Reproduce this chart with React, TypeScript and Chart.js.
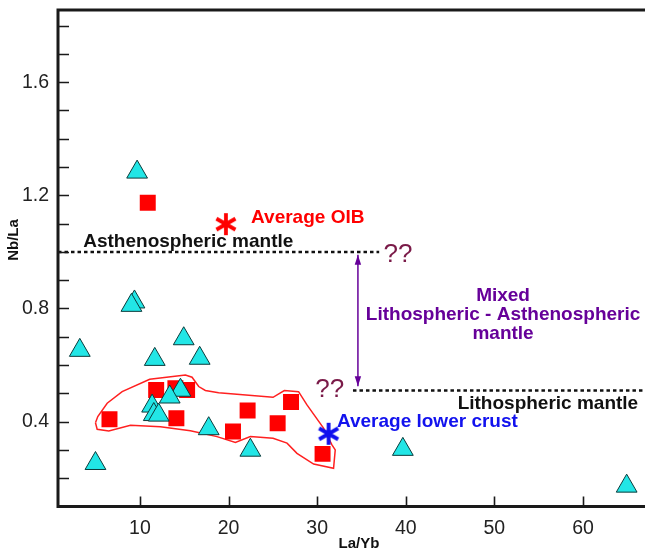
import React, { useEffect, useRef } from "react";
import { Chart, registerables } from "chart.js";

Chart.register(...registerables);

// ---- axis ranges & ticks ----
const xRange = [0.75, 67];
const yRange = [0.1, 1.855];
const xTickValues = [10, 20, 30, 40, 50, 60];
const yLabelValues = [0.4, 0.8, 1.2, 1.6];
const yMinorValues = [0.2, 0.3, 0.4, 0.5, 0.6, 0.7, 0.8, 0.9, 1.0, 1.1, 1.2, 1.3, 1.4, 1.5, 1.6, 1.7, 1.8];

// ---- samples: cyan triangles ----
const triX = [9.68, 9.38, 9.04, 3.21, 14.94, 11.67, 16.74, 14.57, 13.36, 11.37, 11.56, 12.12, 17.76, 22.46, 4.98, 39.67, 64.93];
const triY = [1.282, 0.823, 0.811, 0.652, 0.693, 0.62, 0.624, 0.511, 0.487, 0.455, 0.425, 0.423, 0.375, 0.299, 0.252, 0.302, 0.172];

// ---- samples: red squares ----
const sqX = [10.88, 6.56, 11.83, 14.0, 15.32, 14.11, 22.15, 20.5, 25.54, 27.05, 30.61];
const sqY = [1.174, 0.408, 0.512, 0.518, 0.512, 0.412, 0.439, 0.365, 0.394, 0.469, 0.286];

// ---- reference points ----
const oibPoint = { x: 19.7, y: 1.098 };
const lowerCrustPoint = { x: 31.29, y: 0.357 };

// ---- field outline (red polygon) ----
const polyX = [4.98, 5.24, 6.3, 7.99, 11.1, 15.13, 15.88, 16.63, 17.38, 18.88, 25.02, 26.29, 27.9, 28.85, 30.72, 31.67, 32.04, 31.85, 29.6, 27.72, 26.6, 25.02, 22.46, 20.77, 18.7, 15.69, 12.31, 8.93, 6.48, 5.17, 4.98];
const polyY = [0.396, 0.418, 0.465, 0.506, 0.55, 0.565, 0.557, 0.524, 0.51, 0.502, 0.486, 0.51, 0.506, 0.459, 0.377, 0.318, 0.3, 0.235, 0.25, 0.288, 0.324, 0.341, 0.347, 0.326, 0.347, 0.368, 0.382, 0.387, 0.367, 0.373, 0.396];

// ---- reference lines ----
const asthenoLineX = [0.75, 37.0];
const asthenoLineY = 1.0;
const lithoLineX = [34.04, 67];
const lithoLineY = 0.51;
const arrowX = 34.6;
const arrowY = [0.99, 0.525];

// ---- annotations (data coords) ----
const annotations = [
  { text: "Average OIB", x: 22.54, y: 1.102, color: "#ff0000", align: "left", size: 19, bold: true },
  { text: "Asthenospheric mantle", x: 3.6, y: 1.019, color: "#111111", align: "left", size: 19, bold: true },
  { text: "Average lower crust", x: 32.23, y: 0.381, color: "#1212ee", align: "left", size: 19, bold: true },
  { text: "Lithospheric mantle", x: 66.23, y: 0.443, color: "#111111", align: "right", size: 19, bold: true },
  { text: "Mixed", x: 50.98, y: 0.828, color: "#660099", align: "center", size: 19, bold: true },
  { text: "Lithospheric - Asthenospheric", x: 50.98, y: 0.759, color: "#660099", align: "center", size: 19, bold: true },
  { text: "mantle", x: 50.98, y: 0.692, color: "#660099", align: "center", size: 19, bold: true },
  { text: "??", x: 37.49, y: 0.965, color: "#7a1a48", align: "left", size: 26, bold: false },
  { text: "??", x: 29.79, y: 0.488, color: "#7a1a48", align: "left", size: 26, bold: false },
];

const xTitle = "La/Yb";
const yTitle = "Nb/La";
const FONT = "'Liberation Sans', Arial, Helvetica, sans-serif";

function makeStar(color: string) {
  const size = 26;
  const c = document.createElement("canvas");
  c.width = size;
  c.height = size;
  const g = c.getContext("2d")!;
  g.strokeStyle = color;
  g.lineWidth = 3.8;
  const r = 11;
  const cx = size / 2;
  g.beginPath();
  for (const a of [90, 30, 150]) {
    const rad = (a * Math.PI) / 180;
    g.moveTo(cx + r * Math.cos(rad), cx - r * Math.sin(rad));
    g.lineTo(cx - r * Math.cos(rad), cx + r * Math.sin(rad));
  }
  g.stroke();
  return c;
}

const overlayPlugin = {
  id: "overlay",
  afterDatasetsDraw(chart: any) {
    const { ctx, chartArea: ca, scales } = chart;
    const xs = scales.x;
    const ys = scales.y;
    ctx.save();
    // frame (left, top, bottom)
    ctx.strokeStyle = "#1a1a1a";
    ctx.lineWidth = 3;
    ctx.lineJoin = "miter";
    ctx.beginPath();
    ctx.moveTo(ca.right + 3, ca.top);
    ctx.lineTo(ca.left, ca.top);
    ctx.lineTo(ca.left, ca.bottom);
    ctx.lineTo(ca.right + 3, ca.bottom);
    ctx.stroke();
    // inward ticks
    ctx.lineWidth = 1.6;
    ctx.beginPath();
    for (const v of xTickValues) {
      const px = Math.round(xs.getPixelForValue(v)) + 0.5;
      ctx.moveTo(px, ca.bottom);
      ctx.lineTo(px, ca.bottom - 10);
    }
    for (const v of yMinorValues) {
      const py = Math.round(ys.getPixelForValue(v)) + 0.5;
      ctx.moveTo(ca.left, py);
      ctx.lineTo(ca.left + 11, py);
    }
    ctx.stroke();

    // arrow heads
    const ax = xs.getPixelForValue(arrowX);
    const aTop = ys.getPixelForValue(arrowY[0]);
    const aBot = ys.getPixelForValue(arrowY[1]);
    ctx.fillStyle = "#660099";
    ctx.beginPath();
    ctx.moveTo(ax, aTop);
    ctx.lineTo(ax - 3.2, aTop + 10);
    ctx.lineTo(ax + 3.2, aTop + 10);
    ctx.closePath();
    ctx.fill();
    ctx.beginPath();
    ctx.moveTo(ax, aBot);
    ctx.lineTo(ax - 3.2, aBot - 10);
    ctx.lineTo(ax + 3.2, aBot - 10);
    ctx.closePath();
    ctx.fill();

    // annotations
    ctx.textBaseline = "alphabetic";
    for (const a of annotations) {
      ctx.font = `${a.bold ? "bold " : ""}${a.size}px ${FONT}`;
      ctx.fillStyle = a.color;
      ctx.textAlign = a.align;
      ctx.fillText(a.text, xs.getPixelForValue(a.x), ys.getPixelForValue(a.y));
    }

    // axis titles
    ctx.fillStyle = "#111111";
    ctx.font = `bold 15px ${FONT}`;
    ctx.textAlign = "center";
    ctx.textBaseline = "middle";
    ctx.fillText(xTitle, 359, 544);
    ctx.save();
    ctx.translate(14, 240);
    ctx.rotate(-Math.PI / 2);
    ctx.fillText(yTitle, 0, 0);
    ctx.restore();
    ctx.restore();
  },
};

export default function App() {
  const ref = useRef<HTMLCanvasElement | null>(null);
  useEffect(() => {
    if (!ref.current) return;
    const oibStar = makeStar("#ff0000");
    const lcStar = makeStar("#1010ee");
    const chart = new Chart(ref.current, {
      type: "scatter",
      data: {
        datasets: [
          { data: [oibPoint], pointStyle: oibStar as any, pointRadius: 13 },
          { data: [lowerCrustPoint], pointStyle: lcStar as any, pointRadius: 13 },
          {
            data: triX.map((x, i) => ({ x, y: triY[i] })),
            pointStyle: "triangle",
            pointRadius: 12,
            backgroundColor: "#22e6e6",
            borderColor: "#0b3b3b",
            borderWidth: 1,
          },
          {
            data: sqX.map((x, i) => ({ x, y: sqY[i] })),
            pointStyle: "rect",
            pointRadius: 11.3,
            backgroundColor: "#ff0000",
            borderWidth: 0,
          },
          {
            data: polyX.map((x, i) => ({ x, y: polyY[i] })),
            showLine: true,
            pointRadius: 0,
            borderColor: "#ff2020",
            borderWidth: 1.5,
            fill: false,
            tension: 0,
          },
          {
            data: asthenoLineX.map((x) => ({ x, y: asthenoLineY })),
            showLine: true,
            pointRadius: 0,
            borderColor: "#111111",
            borderWidth: 2.5,
            borderDash: [3.5, 3],
          },
          {
            data: lithoLineX.map((x) => ({ x, y: lithoLineY })),
            showLine: true,
            pointRadius: 0,
            borderColor: "#111111",
            borderWidth: 2.5,
            borderDash: [3.5, 3],
          },
          {
            data: arrowY.map((y) => ({ x: arrowX, y })),
            showLine: true,
            pointRadius: 0,
            borderColor: "#660099",
            borderWidth: 1.5,
          },
        ],
      },
      options: {
        animation: false,
        responsive: false,
        devicePixelRatio: 1,
        layout: { autoPadding: false, padding: { top: 10, right: 0, left: 0, bottom: 0 } },
        plugins: { legend: { display: false }, tooltip: { enabled: false } },
        scales: {
          x: {
            type: "linear",
            min: xRange[0],
            max: xRange[1],
            grid: { display: false },
            border: { display: false },
            afterBuildTicks: (s: any) => {
              s.ticks = xTickValues.map((v) => ({ value: v }));
            },
            afterFit: (s: any) => {
              s.height = 46.5;
              s.paddingLeft = 0;
              s.paddingRight = 0;
            },
            ticks: {
              color: "#222222",
              font: { family: FONT, size: 19.5 },
              padding: 2,
              maxRotation: 0,
              callback: (v: any) => String(v),
            },
          },
          y: {
            type: "linear",
            min: yRange[0],
            max: yRange[1],
            grid: { display: false },
            border: { display: false },
            afterBuildTicks: (s: any) => {
              s.ticks = yLabelValues.map((v) => ({ value: v }));
            },
            afterFit: (s: any) => {
              s.width = 58;
              s.paddingTop = 0;
              s.paddingBottom = 0;
            },
            ticks: {
              color: "#222222",
              font: { family: FONT, size: 19.5 },
              padding: 1,
              callback: (v: any) => Number(v).toFixed(1),
            },
          },
        },
      },
      plugins: [overlayPlugin],
    });
    return () => chart.destroy();
  }, []);
  return (
    <div style={{ position: "fixed", left: 0, top: 0, width: 645, height: 553, background: "#fff" }}>
      <canvas ref={ref} width={645} height={553} style={{ width: 645, height: 553, display: "block" }} />
    </div>
  );
}
